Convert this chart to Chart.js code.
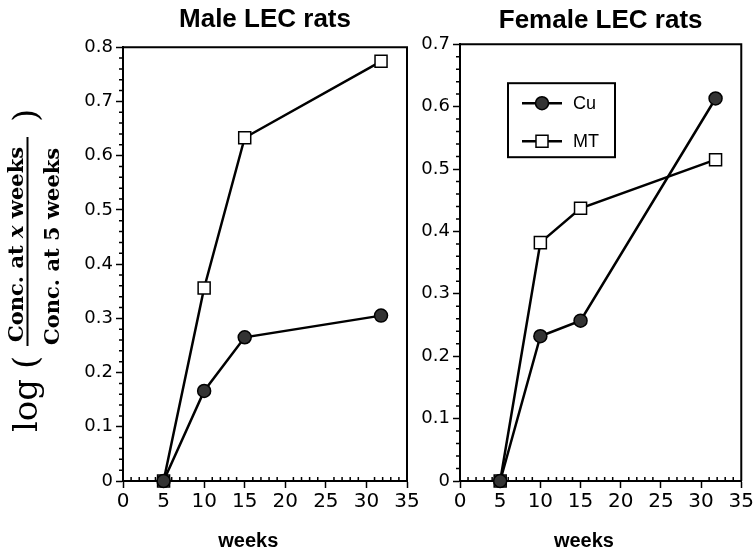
<!DOCTYPE html>
<html>
<head>
<meta charset="utf-8">
<script src="https://cdn.jsdelivr.net/npm/chart.js@4.4.0/dist/chart.umd.min.js"></script>
<style>
  body { margin: 0; background: #fff; }
  #wrap { position: relative; width: 756px; height: 551px; overflow: hidden; }
  canvas { position: absolute; top: 0; }
  #maleChart { left: 0; }
  #femaleChart { left: 405px; }
</style>
</head>
<body>
<div id="wrap">
  <canvas id="maleChart" width="430" height="551"></canvas>
  <canvas id="femaleChart" width="351" height="551"></canvas>
</div>
<script>
// sampling times (weeks)
const weeks = [5, 10, 15, 31.8];

// log(conc at x weeks / conc at 5 weeks)
const maleCu = [0, 0.166, 0.265, 0.305];
const maleMT = [0, 0.356, 0.633, 0.774];
const femaleCu = [0, 0.232, 0.257, 0.613];
const femaleMT = [0, 0.382, 0.437, 0.515];

const seriesLabels = ['Cu', 'MT'];
const xMax = 35;
const maleYMax = 0.8;
const femaleYMax = 0.7;

function makeDatasets(cu, mt) {
  return [
    {
      label: seriesLabels[0],
      data: weeks.map((w, i) => ({ x: w, y: cu[i] })),
      borderColor: '#000',
      borderWidth: 2.5,
      pointStyle: 'circle',
      pointRadius: 6.5,
      pointBackgroundColor: '#333',
      pointBorderColor: '#000',
      pointBorderWidth: 1.5,
      tension: 0,
      clip: false
    },
    {
      label: seriesLabels[1],
      data: weeks.map((w, i) => ({ x: w, y: mt[i] })),
      borderColor: '#000',
      borderWidth: 2.5,
      pointStyle: 'rect',
      pointRadius: 8.5,
      pointBackgroundColor: '#fff',
      pointBorderColor: '#000',
      pointBorderWidth: 1.5,
      tension: 0,
      clip: false
    }
  ];
}

// top/right frame plus the small minor ticks
const framePlugin = {
  id: 'frame',
  afterDraw(chart) {
    const { ctx, chartArea: a, scales: { x, y } } = chart;
    ctx.save();
    ctx.strokeStyle = '#000';
    ctx.lineWidth = 2;
    ctx.beginPath();
    ctx.moveTo(a.left, a.top);
    ctx.lineTo(a.right, a.top);
    ctx.lineTo(a.right, a.bottom);
    ctx.stroke();

    ctx.lineWidth = 1.5;
    ctx.beginPath();
    for (let v = x.min + 1; v < x.max; v++) {
      if (v % 5 === 0) continue;
      const px = x.getPixelForValue(v);
      ctx.moveTo(px, a.bottom);
      ctx.lineTo(px, a.bottom - 4);
    }
    const n = Math.round((y.max - y.min) / 0.02);
    for (let i = 1; i < n; i++) {
      if (i % 5 === 0) continue;
      const py = y.getPixelForValue(y.min + i * 0.02);
      ctx.moveTo(a.left, py);
      ctx.lineTo(a.left - 4, py);
    }
    ctx.stroke();
    ctx.restore();
  }
};

// rotated fraction title on the left
const yTitlePlugin = {
  id: 'yTitle',
  afterDraw(chart) {
    const ctx = chart.ctx;
    function put(parts, x, y, maxWidth) {
      ctx.save();
      ctx.translate(x, y);
      ctx.rotate(-Math.PI / 2);
      ctx.fillStyle = '#000';
      ctx.textBaseline = 'alphabetic';
      ctx.textAlign = 'left';
      let total = 0;
      parts.forEach(p => { ctx.font = p[1]; total += ctx.measureText(p[0]).width; });
      const k = maxWidth && total > maxWidth ? maxWidth / total : 1;
      ctx.scale(k, 1);
      let u = 0;
      parts.forEach(p => {
        ctx.font = p[1];
        ctx.fillText(p[0], u, 0);
        u += ctx.measureText(p[0]).width;
      });
      ctx.restore();
    }
    const big = '34px "DejaVu Serif"';
    const frac = 'bold 21px "DejaVu Serif"';
    const fracIt = 'italic bold 21px "DejaVu Serif"';
    put([['log', big]], 37, 432);
    put([['(', big]], 37, 369);
    put([['Conc. at ', frac], ['x', fracIt], [' weeks', frac]], 23, 342, 199);
    put([['Conc. at 5 weeks', frac]], 59, 345, 199);
    put([[')', big]], 37, 122);

    ctx.save();
    ctx.strokeStyle = '#000';
    ctx.lineWidth = 2;
    ctx.beginPath();
    ctx.moveTo(27.5, 346);
    ctx.lineTo(27.5, 137);
    ctx.stroke();
    ctx.restore();
  }
};

// boxed legend inside the female plot
const boxLegendPlugin = {
  id: 'boxLegend',
  afterDraw(chart) {
    const { ctx, chartArea: a } = chart;
    const left = a.left + 48, top = a.top + 39, w = 107, h = 74;
    ctx.save();
    ctx.fillStyle = '#fff';
    ctx.fillRect(left, top, w, h);
    ctx.strokeStyle = '#000';
    ctx.lineWidth = 2;
    ctx.strokeRect(left, top, w, h);
    chart.data.datasets.forEach((ds, i) => {
      const cy = top + 20 + i * 38;
      const cx = left + 34;
      ctx.beginPath();
      ctx.moveTo(left + 14, cy);
      ctx.lineTo(left + 54, cy);
      ctx.lineWidth = ds.borderWidth;
      ctx.strokeStyle = ds.borderColor;
      ctx.stroke();
      ctx.fillStyle = ds.pointBackgroundColor;
      ctx.strokeStyle = ds.pointBorderColor;
      ctx.lineWidth = ds.pointBorderWidth;
      ctx.beginPath();
      if (ds.pointStyle === 'circle') {
        ctx.arc(cx, cy, ds.pointRadius, 0, Math.PI * 2);
      } else {
        const s = ds.pointRadius * Math.SQRT1_2;
        ctx.rect(cx - s, cy - s, 2 * s, 2 * s);
      }
      ctx.fill();
      ctx.stroke();
      ctx.fillStyle = '#000';
      ctx.font = '18px "Liberation Sans"';
      ctx.textBaseline = 'middle';
      ctx.fillText(ds.label, left + 65, cy + 1);
    });
    ctx.restore();
  }
};

function axisOptions(yMax, yWidth) {
  const grid = {
    display: true,
    drawOnChartArea: false,
    drawTicks: true,
    tickLength: 7,
    tickColor: '#000',
    tickWidth: 1.5
  };
  const border = { display: true, color: '#000', width: 2 };
  return {
    x: {
      type: 'linear',
      min: 0,
      max: xMax,
      ticks: { stepSize: 5, color: '#000', font: { family: 'DejaVu Sans', size: 20 }, padding: 2 },
      grid: grid,
      border: border,
      title: {
        display: true,
        // trailing spaces push the label a little left, as in the original
        text: 'weeks      ',
        color: '#000',
        font: { family: 'Liberation Sans', size: 20, weight: 'bold', lineHeight: 1 },
        padding: { top: 0, bottom: 0 }
      },
      afterFit(scale) { scale.height = 70; }
    },
    y: {
      type: 'linear',
      min: 0,
      max: yMax,
      ticks: { stepSize: 0.1, color: '#000', font: { family: 'DejaVu Sans', size: 18 }, padding: 3 },
      grid: grid,
      border: border,
      afterFit(scale) { scale.width = yWidth; }
    }
  };
}

function makeChart(id, title, cu, mt, yMax, yWidth, rightPad, titlePad, extraPlugins) {
  return new Chart(document.getElementById(id), {
    type: 'line',
    data: { datasets: makeDatasets(cu, mt) },
    options: {
      responsive: false,
      animation: false,
      events: [],
      layout: { padding: { left: 0, right: rightPad, top: 0, bottom: 0 } },
      scales: axisOptions(yMax, yWidth),
      plugins: {
        legend: { display: false },
        tooltip: { enabled: false },
        title: {
          display: true,
          text: title,
          fullSize: false,
          color: '#000',
          font: { family: 'Liberation Sans', size: 26, weight: 'bold', lineHeight: 1.2 },
          padding: titlePad
        }
      }
    },
    plugins: [framePlugin].concat(extraPlugins)
  });
}

makeChart('maleChart', 'Male LEC rats', maleCu, maleMT, maleYMax, 123, 23, { top: 4, bottom: 12 }, [yTitlePlugin]);
makeChart('femaleChart', 'Female LEC rats', femaleCu, femaleMT, femaleYMax, 55, 13, { top: 5, bottom: 8 }, [boxLegendPlugin]);
</script>
</body>
</html>
